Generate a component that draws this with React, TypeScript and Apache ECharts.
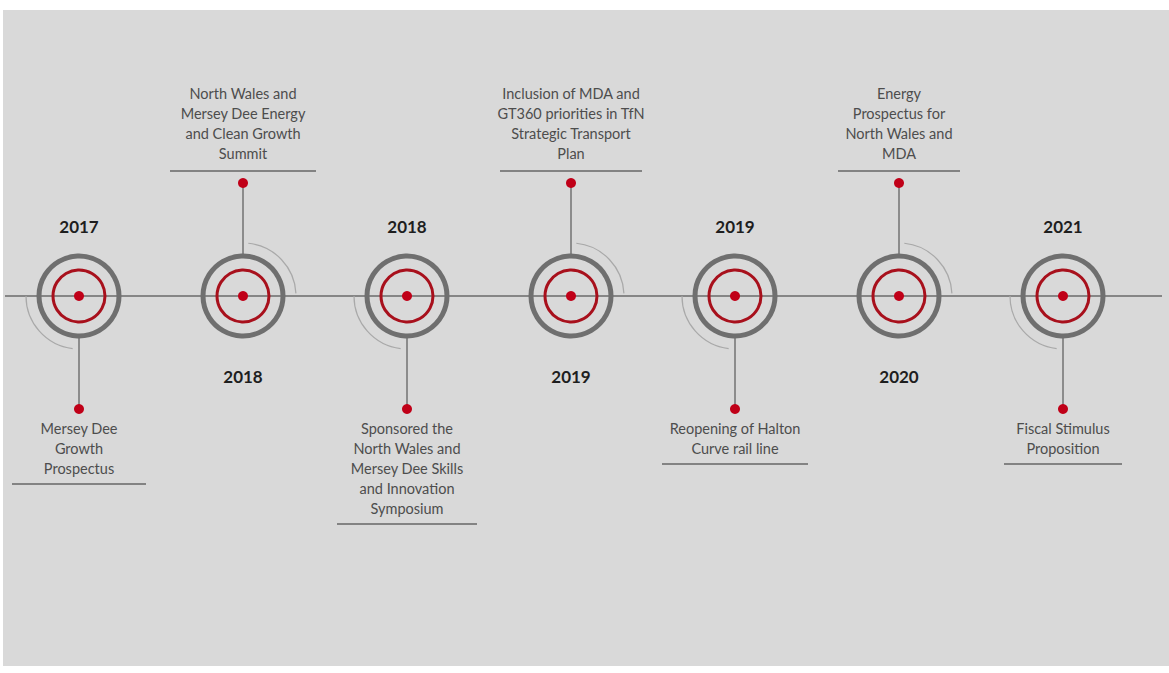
import React, { useEffect, useRef } from 'react';
import * as echarts from 'echarts';

// ---- data ----
const YEARS = ['2017', '2018', '2018', '2019', '2019', '2020', '2021'];
const EVENTS = [
  'Mersey Dee\nGrowth\nProspectus',
  'North Wales and\nMersey Dee Energy\nand Clean Growth\nSummit',
  'Sponsored the\nNorth Wales and\nMersey Dee Skills\nand Innovation\nSymposium',
  'Inclusion of MDA and\nGT360 priorities in TfN\nStrategic Transport\nPlan',
  'Reopening of Halton\nCurve rail line',
  'Energy\nProspectus for\nNorth Wales and\nMDA',
  'Fiscal Stimulus\nProposition',
];
const EVENT_SIDE = ['below', 'above', 'below', 'above', 'below', 'above', 'below'];

// ---- layout (sizes only) ----
const UNDERLINE_WIDTH = [134, 146, 140, 142, 146, 122, 118];
const LH = 20;

export default function App() {
  const ref = useRef<HTMLDivElement>(null);

  useEffect(() => {
    if (!ref.current) return;
    const chart = echarts.init(ref.current, undefined, { renderer: 'svg' });

    const renderItem = (params: any, api: any) => {
      const i = params.dataIndex;
      const p = api.coord([api.value(0), api.value(1)]);
      const cx = p[0];
      const cy = p[1];
      const below = EVENT_SIDE[i] === 'below';
      const s = below ? 1 : -1;
      const dotY = cy + s * 113;
      const nLines = EVENTS[i].split('\n').length;
      const underY = below ? dotY + 9 + nLines * LH + 6 : dotY - 12;
      const uw = UNDERLINE_WIDTH[i];
      const arcShape = below
        ? { cx, cy, r: 53, startAngle: Math.PI / 2 + 0.12, endAngle: Math.PI, clockwise: true }
        : { cx, cy, r: 53, startAngle: -Math.PI / 2 + 0.1, endAngle: -0.05, clockwise: true };
      return {
        type: 'group',
        children: [
          { type: 'arc', shape: arcShape, style: { stroke: '#a9a9a9', fill: 'none', lineWidth: 1.2 } },
          { type: 'line', shape: { x1: cx, y1: cy + s * 42, x2: cx, y2: dotY }, style: { stroke: '#8c8c8c', lineWidth: 2 } },
          { type: 'circle', shape: { cx, cy, r: 40 }, style: { fill: 'none', stroke: '#6f6f6f', lineWidth: 5 } },
          { type: 'circle', shape: { cx, cy, r: 26 }, style: { fill: 'none', stroke: '#a8101c', lineWidth: 3 } },
          { type: 'circle', shape: { cx, cy, r: 5 }, style: { fill: '#c00018' } },
          { type: 'circle', shape: { cx, cy: dotY, r: 5 }, style: { fill: '#c00018' } },
          { type: 'line', shape: { x1: cx - uw / 2, y1: underY, x2: cx + uw / 2, y2: underY }, style: { stroke: '#666666', lineWidth: 1.5 } },
          {
            type: 'text',
            x: cx,
            y: below ? dotY + 9 : underY - 8,
            style: {
              text: EVENTS[i],
              fill: '#4d4d4d',
              fontSize: 14.5,
              fontFamily: 'Lato',
              lineHeight: LH,
              align: 'center',
              verticalAlign: below ? 'top' : 'bottom',
            },
          },
          {
            type: 'text',
            x: cx,
            y: below ? cy - 70 : cy + 80,
            style: {
              text: YEARS[i],
              fill: '#1e1e1e',
              fontSize: 17,
              fontWeight: 'bold',
              fontFamily: 'Lato',
              align: 'center',
              verticalAlign: 'middle',
            },
          },
        ],
      };
    };

    chart.setOption({
      animation: false,
      backgroundColor: '#ffffff',
      grid: { left: 79, right: 106, top: 10, height: 572 },
      xAxis: { type: 'value', min: 0, max: YEARS.length - 1, show: false },
      yAxis: { type: 'value', min: -1, max: 1, show: false },
      graphic: [
        { type: 'rect', z: -100, shape: { x: 3, y: 10, width: 1166, height: 656 }, style: { fill: '#d9d9d9' } },
        { type: 'line', z: -50, shape: { x1: 5, y1: 296, x2: 1162, y2: 296 }, style: { stroke: '#6a6a6a', lineWidth: 1.5 } },
      ],
      series: [
        {
          type: 'custom',
          coordinateSystem: 'cartesian2d',
          renderItem,
          clip: false,
          data: YEARS.map((_, i) => [i, 0]),
        },
      ],
    });

    return () => chart.dispose();
  }, []);

  return (
    <div
      ref={ref}
      style={{ position: 'absolute', left: 0, top: 0, width: 1169, height: 673 }}
    />
  );
}
